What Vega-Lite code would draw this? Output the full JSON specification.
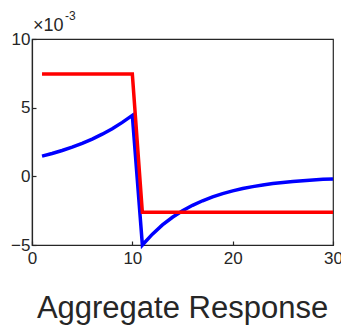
{
  "$schema": "https://vega.github.io/schema/vega-lite/v6.json",
  "width": 301,
  "height": 206,
  "autosize": "none",
  "padding": {"left": 32, "top": 39, "right": 8, "bottom": 81},
  "background": "white",
  "config": {
    "view": {"stroke": "#262626", "strokeWidth": 1.2},
    "font": "Liberation Sans",
    "axis": {
      "grid": false,
      "labelFlush": false,
      "domainColor": "#262626",
      "domainWidth": 1.2,
      "tickColor": "#262626",
      "tickWidth": 1.2,
      "tickSize": -4,
      "labelFont": "Liberation Sans",
      "labelFontSize": 17,
      "labelColor": "#262626",
      "titleFont": "Liberation Sans",
      "titleFontWeight": "normal",
      "titleColor": "#262626"
    }
  },
  "datasets": {
    "series": [
      {"t": 1, "series": "blue", "response": 1.47},
      {"t": 2, "series": "blue", "response": 1.66},
      {"t": 3, "series": "blue", "response": 1.88},
      {"t": 4, "series": "blue", "response": 2.12},
      {"t": 5, "series": "blue", "response": 2.40},
      {"t": 6, "series": "blue", "response": 2.71},
      {"t": 7, "series": "blue", "response": 3.07},
      {"t": 8, "series": "blue", "response": 3.47},
      {"t": 9, "series": "blue", "response": 3.93},
      {"t": 10, "series": "blue", "response": 4.44},
      {"t": 11, "series": "blue", "response": -5.00},
      {"t": 12, "series": "blue", "response": -4.21},
      {"t": 13, "series": "blue", "response": -3.54},
      {"t": 14, "series": "blue", "response": -2.98},
      {"t": 15, "series": "blue", "response": -2.51},
      {"t": 16, "series": "blue", "response": -2.11},
      {"t": 17, "series": "blue", "response": -1.78},
      {"t": 18, "series": "blue", "response": -1.50},
      {"t": 19, "series": "blue", "response": -1.26},
      {"t": 20, "series": "blue", "response": -1.06},
      {"t": 21, "series": "blue", "response": -0.89},
      {"t": 22, "series": "blue", "response": -0.75},
      {"t": 23, "series": "blue", "response": -0.63},
      {"t": 24, "series": "blue", "response": -0.53},
      {"t": 25, "series": "blue", "response": -0.45},
      {"t": 26, "series": "blue", "response": -0.38},
      {"t": 27, "series": "blue", "response": -0.32},
      {"t": 28, "series": "blue", "response": -0.27},
      {"t": 29, "series": "blue", "response": -0.22},
      {"t": 30, "series": "blue", "response": -0.19},
      {"t": 1, "series": "red", "response": 7.45},
      {"t": 10, "series": "red", "response": 7.45},
      {"t": 11, "series": "red", "response": -2.62},
      {"t": 30, "series": "red", "response": -2.62}
    ]
  },
  "layer": [
    {
      "data": {"name": "series"},
      "mark": {"type": "line", "strokeWidth": 3.5, "clip": false},
      "encoding": {
        "x": {
          "field": "t",
          "type": "quantitative",
          "scale": {"domain": [0, 30], "nice": false},
          "axis": {
            "values": [0, 10, 20, 30],
            "labelPadding": 9,
            "title": "Aggregate Response",
            "titleFontSize": 31,
            "titleX": 150,
            "titleY": 72,
            "titleBaseline": "alphabetic",
            "titleAnchor": "middle"
          }
        },
        "y": {
          "field": "response",
          "type": "quantitative",
          "scale": {"domain": [-5, 10], "nice": false},
          "axis": {"values": [-5, 0, 5, 10], "labelPadding": 6, "title": null}
        },
        "color": {
          "field": "series",
          "type": "nominal",
          "scale": {"domain": ["blue", "red"], "range": ["#0000ff", "#ff0000"]},
          "legend": null
        },
        "order": {"field": "t", "type": "quantitative"}
      }
    },
    {
      "data": {"values": [{"label": "×10"}]},
      "mark": {"type": "text", "align": "left", "baseline": "alphabetic", "fontSize": 18, "dx": 1, "dy": -8, "color": "#262626", "font": "Liberation Sans"},
      "encoding": {
        "x": {"datum": 0, "type": "quantitative"},
        "y": {"datum": 10, "type": "quantitative"},
        "text": {"field": "label"}
      }
    },
    {
      "data": {"values": [{"label": "-3"}]},
      "mark": {"type": "text", "align": "left", "baseline": "alphabetic", "fontSize": 12, "dx": 33, "dy": -19, "color": "#262626", "font": "Liberation Sans"},
      "encoding": {
        "x": {"datum": 0, "type": "quantitative"},
        "y": {"datum": 10, "type": "quantitative"},
        "text": {"field": "label"}
      }
    }
  ]
}
